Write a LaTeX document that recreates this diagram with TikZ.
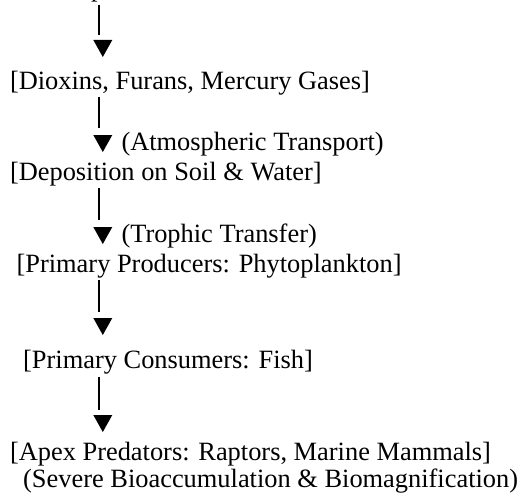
\documentclass[tikz,border=0pt]{standalone}
\usepackage{fontspec}
\setmainfont{Liberation Serif}
\begin{document}
\begin{tikzpicture}[x=1pt,y=-1pt,
  txt/.style={anchor=base west,inner sep=0pt,outer sep=0pt,font=\fontsize{26.4}{30}\selectfont},
  bar/.style={line width=2.6pt,line cap=butt},
  downtri/.pic={\fill (-9.5,0) -- (9.5,0) -- (0,17) -- cycle;}]
\useasboundingbox (0,0) rectangle (524,492);
% clipped top line (only descenders visible)
\node[txt] (srcp) at (91,-3) {p};
\node[txt] (srcb) at (447,-3) {]};
% text lines
\node[txt] (dioxins) at (10,90) {[Dioxins, Furans, Mercury Gases]};
\node[txt] (atm) at (121.5,150) {(Atmospheric Transport)};
\node[txt] (depo) at (10,180) {[Deposition on Soil \& Water]};
\node[txt] (troph) at (121.5,242) {(Trophic Transfer)};
\node[txt] (prod) at (16.6,272) {[Primary Producers: Phytoplankton]};
\node[txt] (cons) at (23.2,368) {[Primary Consumers: Fish]};
\node[txt] (apex) at (10,460) {[Apex Predators: Raptors, Marine Mammals]};
\node[txt] (sev) at (23.2,487) {(Severe Bioaccumulation \& Biomagnification)};
% bars
\coordinate (b1t) at (99,5);   \coordinate (b1b) at (99,35);
\coordinate (b2t) at (99,97);  \coordinate (b2b) at (99,128);
\coordinate (b3t) at (99,188); \coordinate (b3b) at (99,220);
\coordinate (b4t) at (99,280); \coordinate (b4b) at (99,312);
\coordinate (b5t) at (99,377); \coordinate (b5b) at (99,410);
\draw[bar] (b1t) -- (b1b);
\draw[bar] (b2t) -- (b2b);
\draw[bar] (b3t) -- (b3b);
\draw[bar] (b4t) -- (b4b);
\draw[bar] (b5t) -- (b5b);
% arrowheads
\coordinate (t1) at (102.8,40);
\coordinate (t2) at (102.8,135);
\coordinate (t3) at (102.8,227);
\coordinate (t4) at (102.8,318);
\coordinate (t5) at (102.8,415);
\pic at (t1) {downtri};
\pic at (t2) {downtri};
\pic at (t3) {downtri};
\pic at (t4) {downtri};
\pic at (t5) {downtri};
\end{tikzpicture}
\end{document}
